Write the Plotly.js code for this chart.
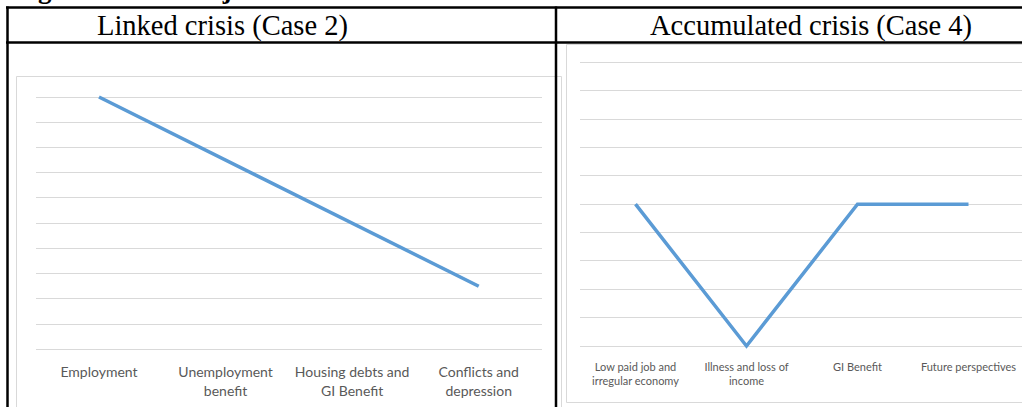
<!DOCTYPE html>
<html>
<head>
<meta charset="utf-8">
<script src="https://cdn.plot.ly/plotly-3.0.1.min.js"></script>
<style>html,body{margin:0;padding:0;background:#fff;}#chart{width:1022px;height:407px;}</style>
</head>
<body>
<div id="chart"></div>
<script>
// Data
const figureTitle = "Figure 4: Case trajectories";
const leftTitle = "Linked crisis (Case 2)";
const rightTitle = "Accumulated crisis (Case 4)";
const leftCategories = ["Employment", "Unemployment<br>benefit", "Housing debts and<br>GI Benefit", "Conflicts and<br>depression"];
const leftValues = [10, 7.5, 5, 2.5];
const rightCategories = ["Low paid job and<br>irregular economy", "Illness and loss of<br>income", "GI Benefit", "Future perspectives"];
const rightValues = [5, 0, 5, 5];

const W = 1022, H = 407;
const px = x => x / W;
const py = y => 1 - y / H;

const lineColor = "#5b9bd5";
const gridColor = "#d9d9d9";
const labelColor = "#595959";

const traces = [
  {x: leftCategories, y: leftValues, type: "scatter", mode: "lines", xaxis: "x", yaxis: "y",
   line: {color: lineColor, width: 3.5}, hoverinfo: "skip"},
  {x: rightCategories, y: rightValues, type: "scatter", mode: "lines", xaxis: "x2", yaxis: "y2",
   line: {color: lineColor, width: 3.5}, hoverinfo: "skip"}
];

const blackLine = {color: "#000", width: 2.5};
const grayLine = {color: gridColor, width: 1};

const layout = {
  width: W, height: H,
  margin: {l: 0, r: 0, t: 0, b: 0},
  paper_bgcolor: "#fff", plot_bgcolor: "rgba(0,0,0,0)",
  showlegend: false, hovermode: false,
  xaxis: {domain: [px(35.7), px(542)], type: "category", range: [-0.5, 3.5],
          showgrid: false, zeroline: false, showline: false, ticks: "",
          tickfont: {family: "Lato, 'Open Sans', sans-serif", size: 14, color: labelColor},
          ticklabelstandoff: 8, fixedrange: true},
  yaxis: {domain: [py(354.35), py(91.95)], range: [-0.2, 10.2], tick0: 0, dtick: 1,
          showgrid: true, gridcolor: gridColor, gridwidth: 1, zeroline: false,
          showticklabels: false, ticks: "", showline: false, fixedrange: true},
  xaxis2: {domain: [px(580), 1], type: "category", range: [-0.5, 3.482], anchor: "y2",
          showgrid: false, zeroline: false, showline: false, ticks: "",
          tickfont: {family: "'Liberation Sans Narrow', Lato, sans-serif", size: 11, color: labelColor},
          ticklabelstandoff: 7, fixedrange: true},
  yaxis2: {domain: [py(351.67), py(56.63)], range: [-0.2, 10.2], tick0: 0, dtick: 1, anchor: "x2",
          showgrid: true, gridcolor: gridColor, gridwidth: 1, zeroline: false,
          showticklabels: false, ticks: "", showline: false, fixedrange: true},
  shapes: [
    // chart boxes
    {type: "rect", xref: "paper", yref: "paper", x0: px(16.5), x1: px(561.5), y0: py(415), y1: py(76.5), line: grayLine, layer: "below"},
    {type: "rect", xref: "paper", yref: "paper", x0: px(566.5), x1: px(1035), y0: py(402.5), y1: py(44.5), line: grayLine, layer: "below"},
    // table lines
    {type: "line", xref: "paper", yref: "paper", x0: px(6), x1: px(1030), y0: py(7.5), y1: py(7.5), line: blackLine},
    {type: "line", xref: "paper", yref: "paper", x0: px(6), x1: px(1030), y0: py(42.5), y1: py(42.5), line: blackLine},
    {type: "line", xref: "paper", yref: "paper", x0: px(7.5), x1: px(7.5), y0: py(6.5), y1: py(415), line: blackLine},
    {type: "line", xref: "paper", yref: "paper", x0: px(556), x1: px(556), y0: py(6.5), y1: py(415), line: blackLine}
  ],
  annotations: [
    {text: "<b>" + figureTitle + "</b>", xref: "paper", yref: "paper", x: px(12), y: py(6), xanchor: "left", yanchor: "bottom",
     showarrow: false, font: {family: "'Liberation Serif', serif", size: 27, color: "#000"}},
    {text: leftTitle, xref: "paper", yref: "paper", x: px(222), y: py(25.5), xanchor: "center", yanchor: "middle",
     showarrow: false, font: {family: "'Liberation Serif', serif", size: 28.5, color: "#000"}},
    {text: rightTitle, xref: "paper", yref: "paper", x: px(811), y: py(25.5), xanchor: "center", yanchor: "middle",
     showarrow: false, font: {family: "'Liberation Serif', serif", size: 28.5, color: "#000"}}
  ]
};

Plotly.newPlot("chart", traces, layout, {displayModeBar: false, staticPlot: true});
</script>
</body>
</html>
